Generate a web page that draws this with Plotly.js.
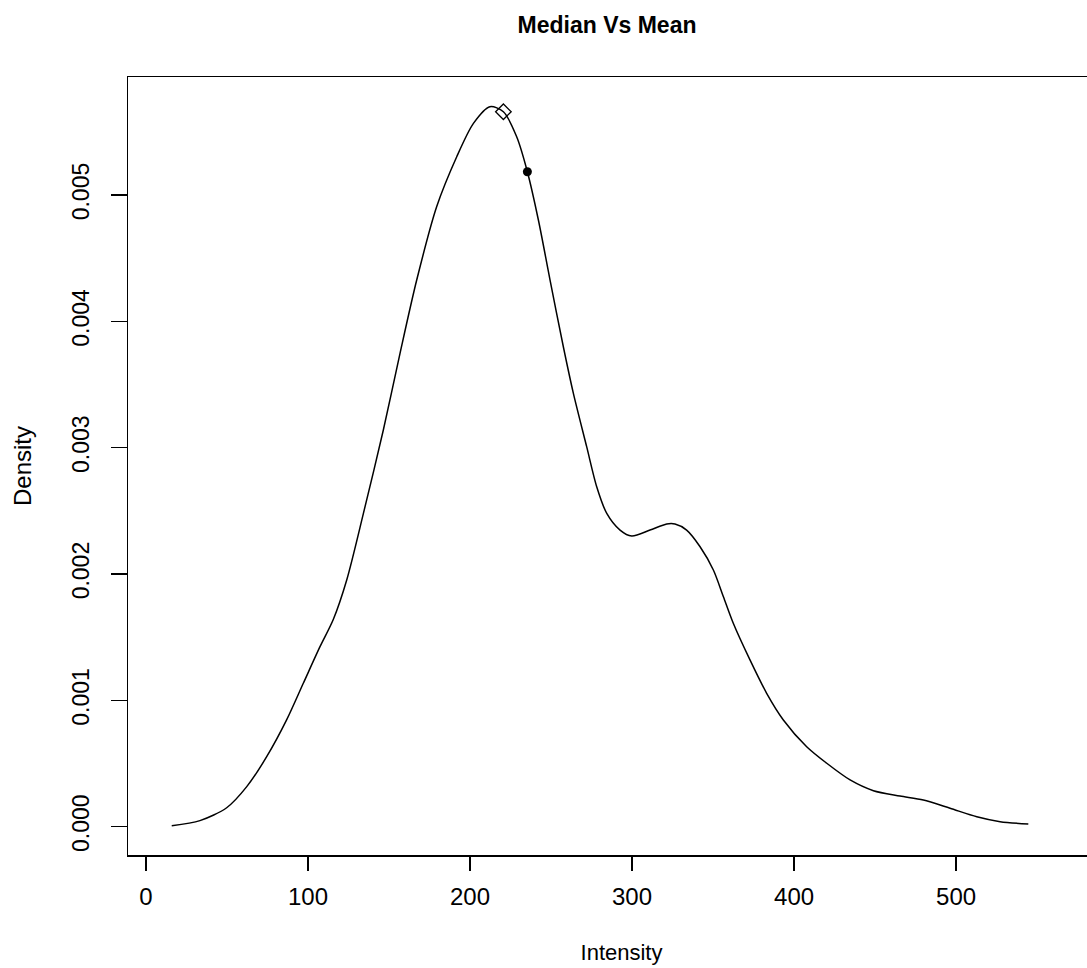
<!DOCTYPE html>
<html>
<head>
<meta charset="utf-8">
<script src="https://cdn.plot.ly/plotly-3.0.1.min.js"></script>
<style>
html, body { margin: 0; padding: 0; overflow: hidden; background: #fff; }
#chart { width: 1120px; height: 968px; }
</style>
</head>
<body>
<div id="chart"></div>
<script>
// Density curve
const intensity = [15.9, 33.3, 49.8, 62.2, 74.5, 86.8, 97.1, 107.4, 115.6, 123.9, 134.2, 146.5, 156.8, 167.1, 179.4, 191.8, 202.1, 212.3, 220.6, 228.8, 235.4, 242.2, 249.4, 257.6, 263.8, 272.0, 278.2, 284.4, 292.6, 299.8, 311.1, 321.4, 326.5, 333.7, 342.0, 350.2, 356.4, 362.5, 372.8, 383.1, 393.4, 407.8, 420.2, 434.6, 449.0, 465.4, 479.8, 496.3, 512.8, 527.2, 544.6];
const density = [0.0000079, 0.000048, 0.000150, 0.000317, 0.000554, 0.000845, 0.001135, 0.001425, 0.001640, 0.001953, 0.00248, 0.00314, 0.003747, 0.004327, 0.004907, 0.005303, 0.005567, 0.005699, 0.005659, 0.005461, 0.005184, 0.004802, 0.004327, 0.003799, 0.00343, 0.003008, 0.002691, 0.00248, 0.002348, 0.002301, 0.002348, 0.002396, 0.002396, 0.002348, 0.002216, 0.002032, 0.00182, 0.00161, 0.00132, 0.001056, 0.000845, 0.000633, 0.000502, 0.00037, 0.000285, 0.000243, 0.000211, 0.000146, 0.000079, 0.00004, 0.000021];

// Median (open diamond) and mean (filled circle)
const medianX = [220.6];
const medianY = [0.005659];
const meanX = [235.4];
const meanY = [0.005184];

const xTicks = [0, 100, 200, 300, 400, 500];
const yTicks = [0.000, 0.001, 0.002, 0.003, 0.004, 0.005];
const yTickText = ["0.000", "0.001", "0.002", "0.003", "0.004", "0.005"];

const FONT = "Liberation Sans, Arial, Helvetica, sans-serif";

const traces = [
  {
    x: intensity, y: density, type: "scatter", mode: "lines",
    line: { color: "#000", width: 1.5, shape: "spline", smoothing: 0.8 },
    name: "density", showlegend: false, hoverinfo: "x+y"
  },
  {
    x: medianX, y: medianY, type: "scatter", mode: "markers",
    marker: { symbol: "diamond-open", size: 12, color: "#000", line: { width: 1.3, color: "#000" } },
    name: "Median", showlegend: false
  },
  {
    x: meanX, y: meanY, type: "scatter", mode: "markers",
    marker: { symbol: "circle", size: 9, color: "#000" },
    name: "Mean", showlegend: false
  }
];

const layout = {
  width: 1120, height: 968,
  margin: { l: 128, r: 5, t: 77, b: 113 },
  paper_bgcolor: "#fff", plot_bgcolor: "#fff",
  font: { family: FONT, color: "#000" },
  title: {
    text: "<b>Median Vs Mean</b>",
    font: { family: FONT, size: 23, color: "#000" },
    x: 0.542, xref: "container", xanchor: "center",
    y: 0.974, yref: "container", yanchor: "middle"
  },
  xaxis: {
    range: [-11.1, 598.1],
    tickmode: "array", tickvals: xTicks,
    ticks: "outside", ticklen: 14, tickwidth: 1.5, tickcolor: "#000",
    showline: true, mirror: true, linecolor: "#000", linewidth: 1.5,
    showgrid: false, zeroline: false,
    tickfont: { family: FONT, size: 24, color: "#000" },
    ticklabelstandoff: 6,
    title: { text: "Intensity", font: { family: FONT, size: 22, color: "#000" }, standoff: 35 }
  },
  yaxis: {
    range: [-0.000224, 0.005934],
    tickmode: "array", tickvals: yTicks, ticktext: yTickText,
    tickangle: -90,
    ticks: "outside", ticklen: 16, tickwidth: 1.5, tickcolor: "#000",
    showline: true, mirror: true, linecolor: "#000", linewidth: 1.5,
    showgrid: false, zeroline: false,
    tickfont: { family: FONT, size: 23, color: "#000" },
    ticklabelstandoff: 12,
    title: { text: "Density", font: { family: FONT, size: 24, color: "#000" }, standoff: 30 }
  }
};

Plotly.newPlot("chart", traces, layout, { displayModeBar: false, staticPlot: true });
</script>
</body>
</html>
